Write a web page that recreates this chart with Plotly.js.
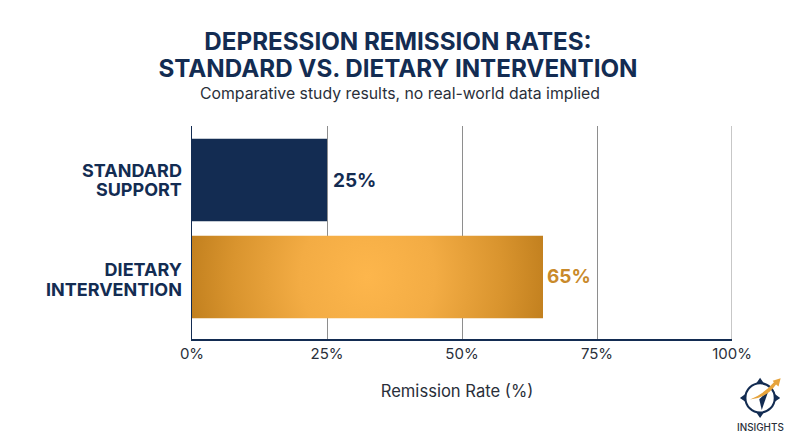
<!DOCTYPE html>
<html><head><meta charset="utf-8">
<script src="https://cdn.plot.ly/plotly-3.0.1.min.js"></script>
<style>html,body{margin:0;padding:0;background:#fff}#c{width:800px;height:447px}</style>
</head><body><div id="c"></div>
<script>
const categories = ['STANDARD<br>SUPPORT', 'DIETARY<br>INTERVENTION'];
const remission = [25, 65];
const valueLabels = ['25%', '65%'];
const barColors = ['#132c52', '#e0a038'];
const labelColors = ['#132c52', '#c98a2a'];
const xTicks = [0, 25, 50, 75, 100];
const xTickLabels = ['0%', '25%', '50%', '75%', '100%'];
const navy = '#132c52';
const textGrey = '#2a2f3a';
const gridGrey = '#8e8e8e';
const font = 'Inter, "Open Sans", sans-serif';

const logo = 'data:image/svg+xml;utf8,' + encodeURIComponent(
`<svg xmlns="http://www.w3.org/2000/svg" viewBox="0 0 100 100">
<circle cx="50" cy="50" r="35" fill="none" stroke="#132c52" stroke-width="5"/>
<path d="M50 2 L59 15 L41 15Z M50 98 L59 85 L41 85Z M2 50 L15 41 L15 59Z M98 50 L85 41 L85 59Z" fill="#132c52"/>
<path d="M70 33 L54 79 L48 53Z" fill="#132c52"/>
<path d="M26 54 Q60 40 83 13 L80 9 L99 3 L94 23 L88 18 Q66 50 26 54Z" fill="#e6a33c"/>
</svg>`);

Plotly.newPlot('c', [{
  type: 'bar', orientation: 'h',
  y: categories, x: remission,
  width: 0.85,
  marker: {color: barColors, line: {width: 0}},
  text: valueLabels, textposition: 'outside', cliponaxis: false,
  textfont: {family: font, size: 19, color: labelColors, weight: 700},
  hoverinfo: 'skip'
}], {
  width: 800, height: 447,
  paper_bgcolor: '#fff', plot_bgcolor: '#fff',
  margin: {l: 192, r: 68, t: 126, b: 108},
  showlegend: false,
  title: {text: 'DEPRESSION REMISSION RATES:<br>STANDARD VS. DIETARY INTERVENTION',
    font: {family: font, size: 24.2, color: navy, weight: 700},
    x: 0.4975, xanchor: 'center', y: 0.889, yanchor: 'top'},
  xaxis: {range: [0, 100], tickvals: xTicks, ticktext: xTickLabels, showgrid: true,
    gridcolor: gridGrey, gridwidth: 1, zeroline: false, showline: true, linecolor: navy, linewidth: 1.5,
    ticks: '', tickfont: {family: font, size: 15, color: textGrey},
    title: {text: 'Remission Rate (%)', font: {family: font, size: 16.6, color: textGrey}, standoff: 24},
    automargin: false},
  yaxis: {range: [1.64, -0.557], type: 'category', showgrid: false, zeroline: false, showline: true,
    linecolor: navy, linewidth: 1.5, ticks: '', ticklabelstandoff: 5,
    tickfont: {family: font, size: 18, color: navy, weight: 700}, automargin: false},
  shapes: [{type: 'line', xref: 'x', yref: 'paper', x0: 100, x1: 100, y0: 0, y1: 1,
    line: {color: gridGrey, width: 1}, layer: 'below'}],
  annotations: [
    {xref: 'paper', yref: 'paper', x: 0.385, y: 1.097, yanchor: 'bottom', xanchor: 'center', showarrow: false,
     text: 'Comparative study results, no real-world data implied',
     font: {family: font, size: 15.8, color: textGrey}},
    {xref: 'paper', yref: 'paper', x: 1.052, y: -0.413, xanchor: 'center', yanchor: 'middle', showarrow: false,
     text: 'INSIGHTS', font: {family: font, size: 9.9, color: textGrey, weight: 500}}
  ],
  images: [{source: logo, xref: 'paper', yref: 'paper', x: 1.052, y: -0.178, sizex: 0.078, sizey: 0.197,
    xanchor: 'center', yanchor: 'top', sizing: 'contain', layer: 'above'}]
}, {displayModeBar: false, staticPlot: true}).then(gd => {
  const svg = gd.querySelector('svg.main-svg');
  const ns = 'http://www.w3.org/2000/svg';
  const g = document.createElementNS(ns, 'radialGradient');
  g.setAttribute('id', 'goldGrad');
  g.setAttribute('cx', '0.5'); g.setAttribute('cy', '0.5'); g.setAttribute('r', '1');
  g.setAttribute('gradientTransform', 'translate(.5 .5) scale(.55 2.5) translate(-.5 -.5)');
  [[0, '#fdb64c'], [0.35, '#f3ac44'], [0.7, '#d9942e'], [1, '#bb7a1a']].forEach(([o, c]) => {
    const s = document.createElementNS(ns, 'stop');
    s.setAttribute('offset', o); s.setAttribute('stop-color', c); g.appendChild(s);
  });
  const defs = svg.querySelector('defs') || svg.insertBefore(document.createElementNS(ns, 'defs'), svg.firstChild);
  defs.appendChild(g);
  gd.querySelectorAll('.barlayer .point path')[1].style.fill = 'url(#goldGrad)';

  // tighter multi-line leading, as in the reference
  const titleLines = gd.querySelectorAll('.gtitle tspan.line');
  if (titleLines[1]) titleLines[1].setAttribute('dy', '27px');
  gd.querySelectorAll('.ytick text').forEach(t => {
    const lines = t.querySelectorAll('tspan.line');
    if (lines.length === 2) {
      const isStandard = t.textContent.indexOf('STANDARD') >= 0;
      lines[0].setAttribute('dy', (isStandard ? 2 : 4.5) + 'px');
      lines[1].setAttribute('dy', (isStandard ? 21.5 : 24) + 'px');
    }
  });
  gd.querySelectorAll('.barlayer text').forEach((t, i) => t.setAttribute('dx', i === 0 ? '3' : '1'));
  const xt = gd.querySelector('.xtitle');
  if (xt) xt.setAttribute('dx', '-5');
});
</script></body></html>
